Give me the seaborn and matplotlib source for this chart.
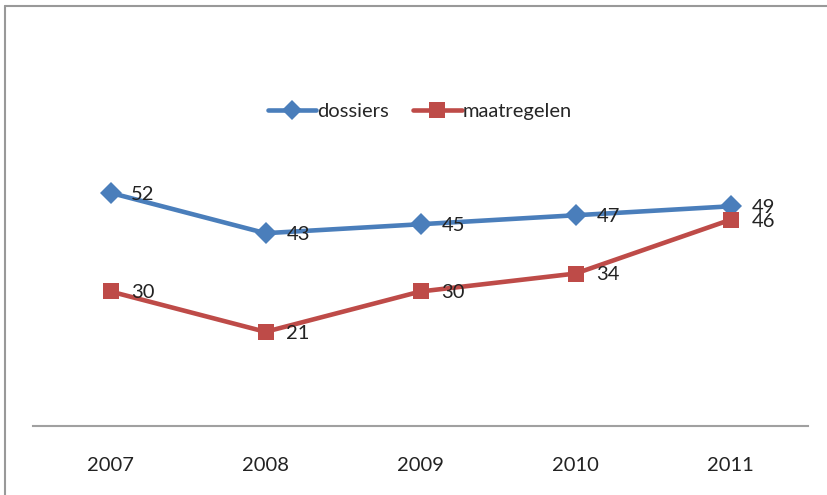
import pandas as pd
import matplotlib.pyplot as plt
import seaborn as sns
from matplotlib.lines import Line2D

years = ['2007', '2008', '2009', '2010', '2011']
dossiers = [52, 43, 45, 47, 49]
maatregelen = [30, 21, 30, 34, 46]

sns.set_theme(style='white')
plt.rcParams['font.family'] = ['Lato', 'DejaVu Sans']

df = pd.DataFrame({
    'pos': list(range(len(years))) * 2,
    'value': dossiers + maatregelen,
    'serie': ['dossiers'] * len(years) + ['maatregelen'] * len(years),
})

colors = {'dossiers': '#4A7EBB', 'maatregelen': '#BE4B48'}
markers = {'dossiers': 'D', 'maatregelen': 's'}

fig = plt.figure(figsize=(8.28, 4.95), dpi=100)
ax = fig.add_axes([33 / 828, 1 - 426 / 495, 775 / 828, 358.7 / 495])

sns.lineplot(data=df, x='pos', y='value', hue='serie', style='serie',
             palette=colors, markers=markers, dashes=False,
             linewidth=3.3, markersize=11, markeredgewidth=0, ax=ax, legend=False)

# data labels to the right of each point
for name, vals in [('dossiers', dossiers), ('maatregelen', maatregelen)]:
    for i, v in enumerate(vals):
        ax.annotate(str(v), (i, v), xytext=(15, -1), textcoords='offset points',
                    ha='left', va='center', fontsize=14.5, color='#222222')

ax.set_xlim(-0.5, len(years) - 0.5)
ax.set_ylim(0, 80)
ax.set_xticks(range(len(years)))
ax.set_xticklabels(years, fontsize=14.5, color='#222222')
ax.tick_params(axis='x', length=0, pad=22)
ax.set_yticks([])
ax.set_xlabel('')
ax.set_ylabel('')
for s in ['top', 'right', 'left']:
    ax.spines[s].set_visible(False)
ax.spines['bottom'].set_color('#A0A0A0')
ax.spines['bottom'].set_linewidth(1.5)

handles = [
    Line2D([], [], color=colors['dossiers'], marker='D', lw=3.3, ms=10, mew=0),
    Line2D([], [], color=colors['maatregelen'], marker='s', lw=3.3, ms=11, mew=0),
]
fig.legend(handles, ['dossiers', 'maatregelen'], loc='center',
           bbox_to_anchor=(420 / 828, 1 - 111 / 495), ncol=2, frameon=False,
           fontsize=14.5, handlelength=2.4, handletextpad=0.05, columnspacing=1.2)

# outer chart border (left and top visible)
fig.add_artist(Line2D([5 / 828, 5 / 828], [0, 1 - 6 / 495], color='#999999', lw=1.5))
fig.add_artist(Line2D([5 / 828, 1], [1 - 6 / 495, 1 - 6 / 495], color='#999999', lw=1.5))

fig.savefig('out.png', dpi=100, facecolor='white')
